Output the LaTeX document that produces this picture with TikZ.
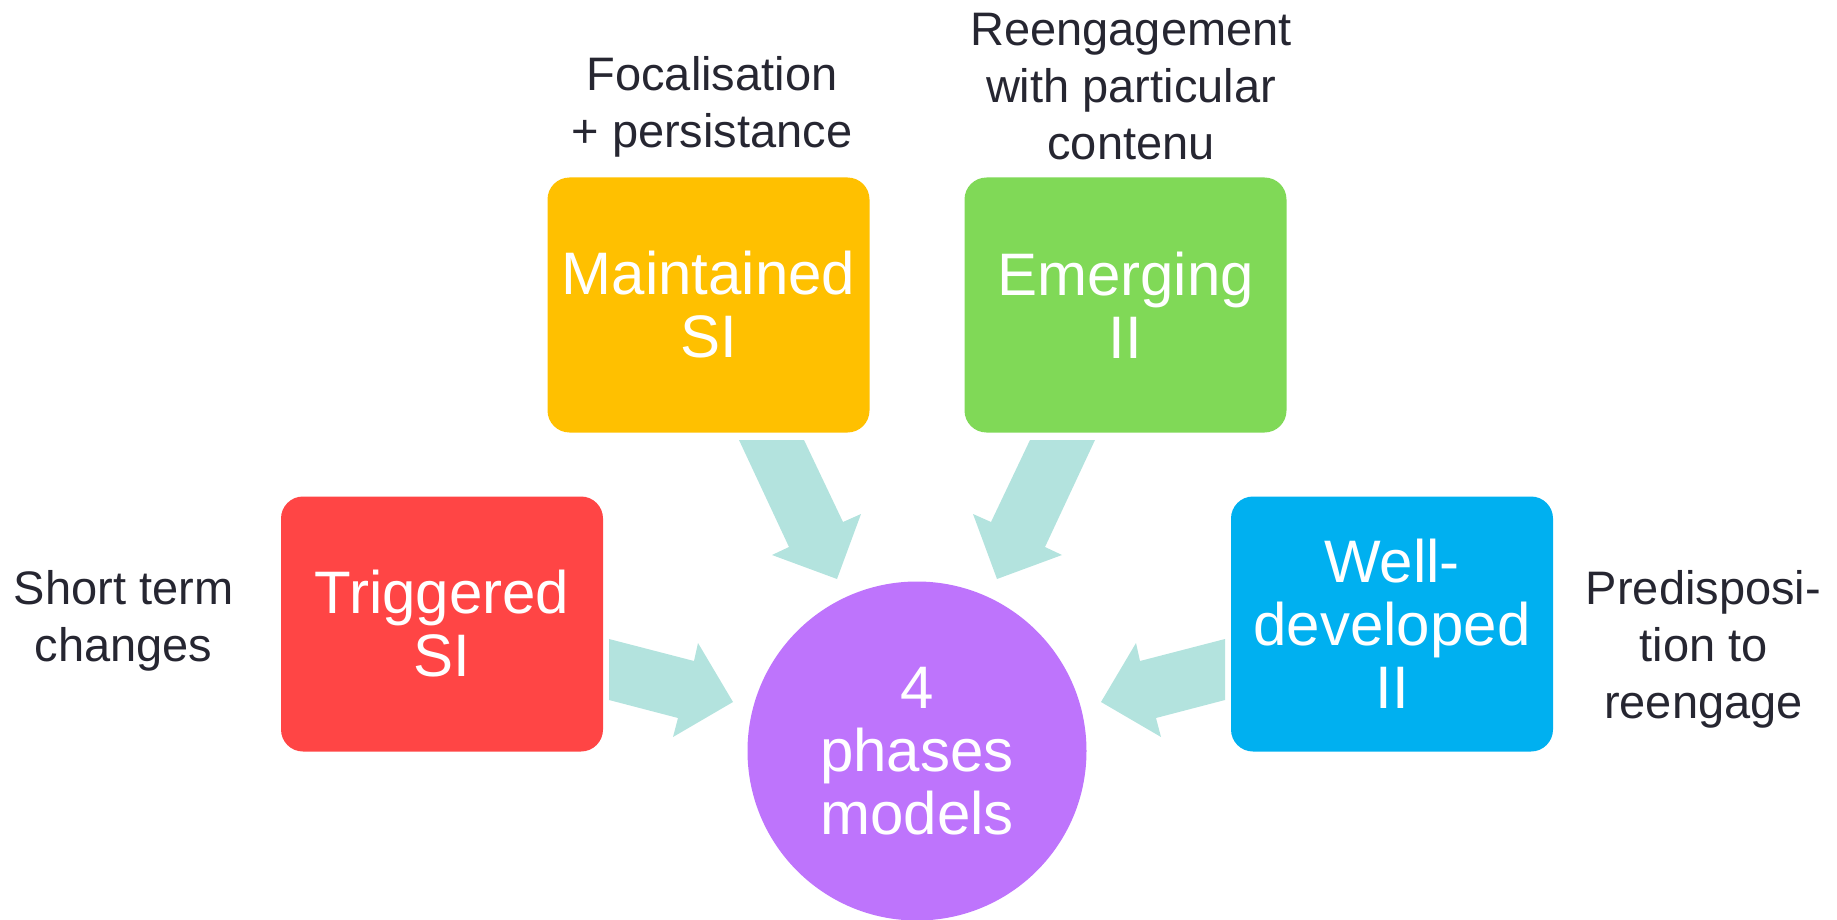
\documentclass[tikz,border=0pt]{standalone}
\usepackage{fontspec}
\setmainfont{Liberation Sans}
\definecolor{trigred}{HTML}{FF4545}
\definecolor{maintyellow}{HTML}{FFC000}
\definecolor{emerggreen}{HTML}{80D957}
\definecolor{wellblue}{HTML}{00B0F0}
\definecolor{hubpurple}{HTML}{BE74FC}
\definecolor{arrowteal}{HTML}{B3E3DE}
\definecolor{notetext}{HTML}{262631}
\begin{document}
\begin{tikzpicture}[x=1pt,y=-1pt,
  phase/.style={rectangle, rounded corners=22pt, minimum width=322pt,
    minimum height=255pt, inner sep=0pt, text=white, align=center,
    font=\fontsize{60}{63}\selectfont},
  hub/.style={circle, fill=hubpurple, minimum size=339pt, inner sep=0pt,
    text=white, align=center, font=\fontsize{60}{63}\selectfont},
  note/.style={anchor=north, inner sep=0pt, text=notetext, align=center,
    font=\fontsize{47}{57}\selectfont},
  flow/.style={fill=arrowteal}]
\useasboundingbox (0,0) rectangle (1837,920);

% phase boxes and central hub
\node[phase, fill=trigred]     (trig)  at (442,624)    {Triggered\\SI};
\node[phase, fill=maintyellow] (maint) at (708.5,305)  {Maintained\\SI};
\node[phase, fill=emerggreen]  (emerg) at (1125.5,305) {Emerging\\II};
\node[phase, fill=wellblue]    (well)  at (1392,624)   {Well-\\developed\\II};
\node[hub] (hub) at (917,751) {4\\phases\\models};

% block arrows pointing at the hub
\fill[flow] (739,440) -- (804,440) -- (843,522) -- (861,514) -- (837,579)
  -- (772,555) -- (789,547) -- cycle;
\fill[flow] (1095,440) -- (1030,440) -- (991,522) -- (973,514) -- (997,579)
  -- (1062,555) -- (1045,547) -- cycle;
\fill[flow] (609,639) -- (694,661) -- (698,643) -- (733,702) -- (673,737)
  -- (678,718) -- (609,700) -- cycle;
\fill[flow] (1225,639) -- (1140,661) -- (1136,643) -- (1101,702) -- (1161,737)
  -- (1156,718) -- (1225,700) -- cycle;

% side notes
\node[note] (shortnote) at (123.5,570) {Short term\\changes};
\node[note] (focnote)   at (712,56)    {Focalisation\\+ persistance};
\node[note] (reengnote) at (1131,13)   {Reengagement\\with particular\\contenu};
\node[note] (prednote)  at (1703.5,570) {Predisposi-\\tion to\\reengage};
\end{tikzpicture}
\end{document}
